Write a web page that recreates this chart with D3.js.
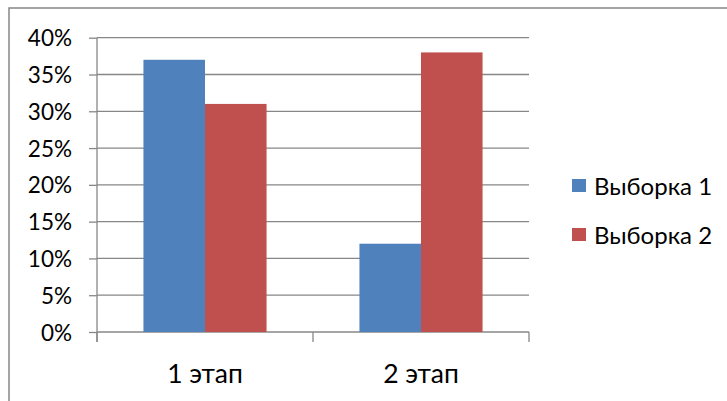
<!DOCTYPE html>
<html>
<head>
<meta charset="utf-8">
<script src="https://cdn.jsdelivr.net/npm/d3@7"></script>
<style>
  html, body { margin: 0; padding: 0; background: #fff; }
  svg { display: block; }
  text { font-family: "Lato", "Noto Sans", sans-serif; fill: #000; }
</style>
</head>
<body>
<div id="chart"></div>
<script>
// Categories, series and axis ticks
const categories = ["1 этап", "2 этап"];
const seriesNames = ["Выборка 1", "Выборка 2"];
const sample1 = [0.37, 0.12];
const sample2 = [0.31, 0.38];
const yTicks = [0, 0.05, 0.10, 0.15, 0.20, 0.25, 0.30, 0.35, 0.40];
const colors = ["#4F81BD", "#C0504D"];

const W = 727, H = 401;
const plot = { left: 97, right: 529, top: 37.7, bottom: 332 };
const axisColor = "#878787";

const svg = d3.select("#chart").append("svg")
  .attr("width", W).attr("height", H);

// chart frame
svg.append("rect")
  .attr("x", 9).attr("y", 8).attr("width", 740).attr("height", 420)
  .attr("fill", "none").attr("stroke", axisColor).attr("stroke-width", 1.5);

const x = d3.scaleBand().domain(categories).range([plot.left, plot.right]).paddingInner(0).paddingOuter(0);
const groupWidth = x.bandwidth() * 0.57;
const xs = d3.scaleBand().domain(seriesNames)
  .range([(x.bandwidth() - groupWidth) / 2, (x.bandwidth() + groupWidth) / 2]);
const y = d3.scaleLinear().domain([0, 0.4]).range([plot.bottom, plot.top]);

// horizontal gridlines
svg.append("g").selectAll("line").data(yTicks.filter(d => d > 0)).join("line")
  .attr("x1", plot.left).attr("x2", plot.right)
  .attr("y1", d => y(d)).attr("y2", d => y(d))
  .attr("stroke", axisColor).attr("stroke-width", 1.3);

// y axis
const yAxis = svg.append("g").attr("transform", `translate(${plot.left},0)`)
  .call(d3.axisLeft(y).tickValues(yTicks).tickFormat(d3.format(".0%")).tickSize(8).tickPadding(17));
yAxis.attr("font-family", null);
yAxis.select(".domain").attr("stroke", axisColor).attr("stroke-width", 1.3)
  .attr("d", `M0,${plot.top}V${plot.bottom + 10}`);
yAxis.selectAll(".tick line").attr("stroke", axisColor).attr("stroke-width", 1.3);
yAxis.selectAll(".tick text").attr("font-size", 22.5).attr("dy", 8);

// x axis
const xAxis = svg.append("g").attr("transform", `translate(0,${plot.bottom})`)
  .call(d3.axisBottom(x).tickSize(0));
xAxis.attr("font-family", null);
xAxis.select(".domain").attr("stroke", axisColor).attr("stroke-width", 1.3)
  .attr("d", `M${plot.left},0H${plot.right}`);
xAxis.selectAll(".tick text").attr("font-size", 26.5).attr("y", 51).attr("dy", 0);
// category separator ticks
svg.append("g").selectAll("line")
  .data([...categories.map(c => x(c)), plot.right]).join("line")
  .attr("x1", d => d).attr("x2", d => d)
  .attr("y1", plot.bottom).attr("y2", plot.bottom + 10)
  .attr("stroke", axisColor).attr("stroke-width", 1.3);

// bars
const rows = categories.map((c, i) => ({ cat: c, values: [sample1[i], sample2[i]] }));
svg.append("g").selectAll("g").data(rows).join("g")
  .attr("transform", d => `translate(${x(d.cat)},0)`)
  .selectAll("rect").data(d => d.values.map((v, j) => ({ v, j }))).join("rect")
  .attr("x", d => xs(seriesNames[d.j]))
  .attr("width", xs.bandwidth())
  .attr("y", d => y(d.v))
  .attr("height", d => y(0) - y(d.v))
  .attr("fill", d => colors[d.j]);

// legend
const legend = svg.append("g").selectAll("g").data(seriesNames).join("g")
  .attr("transform", (d, i) => `translate(572,${179 + i * 49})`);
legend.append("rect").attr("width", 14).attr("height", 13).attr("fill", (d, i) => colors[i]);
legend.append("text").attr("x", 22).attr("y", 15.5).attr("font-size", 24).text(d => d);
</script>
</body>
</html>
